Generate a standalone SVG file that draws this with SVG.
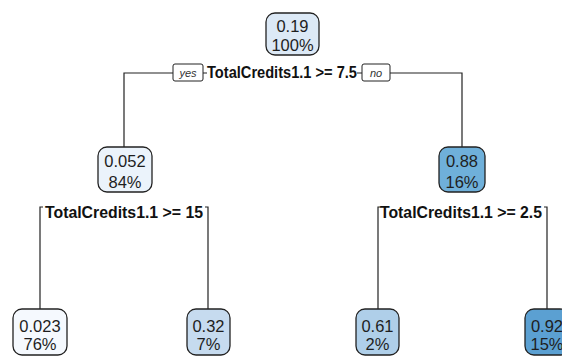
<svg xmlns="http://www.w3.org/2000/svg" width="562" height="356" viewBox="0 0 562 356">
<style>
.box{stroke:#222;stroke-width:1.3}
.num{font-family:"Liberation Sans",Arial,sans-serif;font-size:16.5px;fill:#1e1e1e;text-anchor:middle}
.split{font-family:"Liberation Sans",Arial,sans-serif;font-size:16px;font-weight:bold;fill:#111;text-anchor:middle}
.yn{font-family:"Liberation Sans",Arial,sans-serif;font-size:11px;font-style:italic;fill:#333;text-anchor:middle}
.ynbox{fill:#fff;stroke:#222;stroke-width:1}
.edge{fill:none;stroke:#222;stroke-width:1.2}
</style>
<rect width="562" height="356" fill="#fff"/>
<g id="connectors">
<path class="edge" d="M124 147 V73 H173 M203 73 H207 M357 73 H362 M390 73 H462 V147"/>
<path class="edge" d="M40 309 V207 H43 M208 309 V207 H205"/>
<path class="edge" d="M378 309 V207 H381 M547 309 V207 H544"/>
</g>
<g id="split-root">
<rect class="ynbox" x="173" y="64" width="30" height="17" rx="2"/>
<text class="yn" x="188" y="76.5">yes</text>
<text class="split" x="282" y="78" textLength="150" lengthAdjust="spacingAndGlyphs">TotalCredits1.1 &gt;= 7.5</text>
<rect class="ynbox" x="362" y="64" width="28" height="17" rx="2"/>
<text class="yn" x="376" y="76.5">no</text>
</g>
<g id="split-left">
<text class="split" x="124" y="217.5" textLength="158" lengthAdjust="spacingAndGlyphs">TotalCredits1.1 &gt;= 15</text>
</g>
<g id="split-right">
<text class="split" x="461" y="217.5" textLength="162" lengthAdjust="spacingAndGlyphs">TotalCredits1.1 &gt;= 2.5</text>
</g>
<g id="node-root">
<rect class="box" x="266" y="13" width="53" height="42" rx="9" fill="#dce9f6"/>
<text class="num" x="292.5" y="32">0.19</text>
<text class="num" x="292.5" y="51">100%</text>
</g>
<g id="node-2">
<rect class="box" x="98" y="147" width="54" height="45" rx="9" fill="#ebf3fb"/>
<text class="num" x="125" y="167">0.052</text>
<text class="num" x="125" y="188">84%</text>
</g>
<g id="node-3">
<rect class="box" x="439" y="147" width="46" height="45" rx="9" fill="#6fb0da"/>
<text class="num" x="462" y="167">0.88</text>
<text class="num" x="462" y="188">16%</text>
</g>
<g id="leaf-1">
<rect class="box" x="13" y="309" width="54" height="46" rx="9" fill="#f5f9fe"/>
<text class="num" x="40" y="332">0.023</text>
<text class="num" x="40" y="350">76%</text>
</g>
<g id="leaf-2">
<rect class="box" x="187" y="309" width="43" height="46" rx="9" fill="#c6dbef"/>
<text class="num" x="208.5" y="332">0.32</text>
<text class="num" x="208.5" y="350">7%</text>
</g>
<g id="leaf-3">
<rect class="box" x="356" y="309" width="43" height="46" rx="9" fill="#afcfe9"/>
<text class="num" x="377.5" y="332">0.61</text>
<text class="num" x="377.5" y="350">2%</text>
</g>
<g id="leaf-4">
<rect class="box" x="525" y="309" width="44" height="46" rx="9" fill="#5ba0d2"/>
<text class="num" x="547" y="332">0.92</text>
<text class="num" x="547" y="350">15%</text>
</g>
</svg>
